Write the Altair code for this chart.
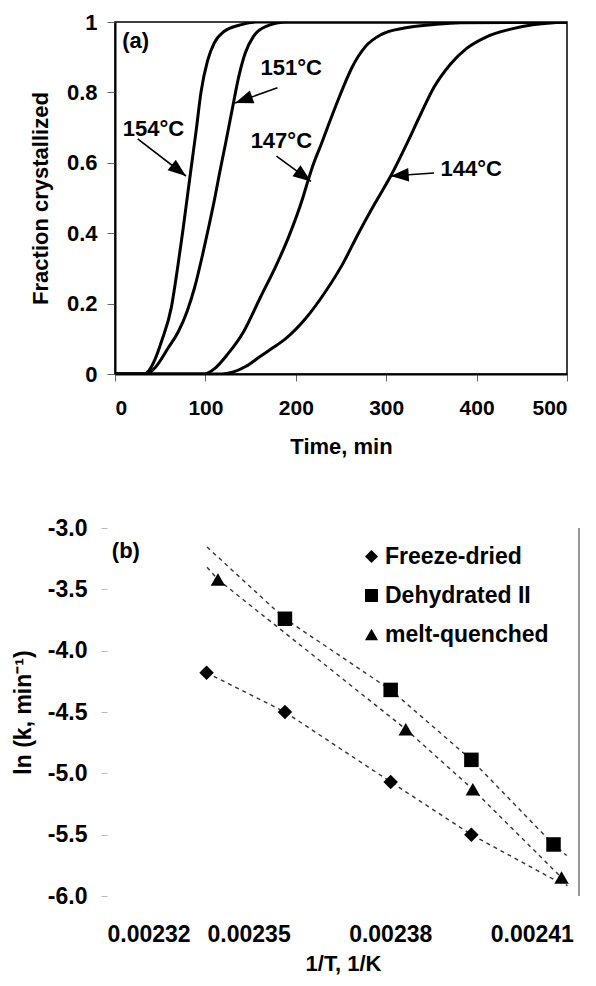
import math
import altair as alt
import pandas as pd

FONT = "Liberation Sans"

# ---------------- Panel (a): fraction crystallized vs time ----------------
t154 = [0, 33, 37, 44, 51.5, 62.4, 69.7, 75.2, 80.6, 85, 89.7, 95.1, 102.4, 109.7, 120.6, 138.7, 157, 500]
f154 = [0, 0, 0.008, 0.04, 0.093, 0.19, 0.31, 0.41, 0.515, 0.6, 0.69, 0.8, 0.89, 0.94, 0.973, 0.992, 1.0, 1.0]

t151 = [0, 35, 45, 58.8, 70, 80, 88, 96.9, 104.2, 110.4, 116, 122.3, 129.6, 136.9, 144.1, 153.2,
        167.8, 190, 500]
f151 = [0, 0, 0.02, 0.074, 0.12, 0.18, 0.245, 0.339, 0.424, 0.5, 0.575, 0.655, 0.751, 0.845, 0.912,
        0.959, 0.988, 1.0, 1.0]

t147 = [0, 98.8, 110, 124.2, 142.4, 160.5, 178.6, 193.1, 207.7, 213, 220, 227.7, 235, 247, 255, 262,
        277, 295, 320, 353, 382, 500]
f147 = [0, 0, 0.015, 0.055, 0.121, 0.216, 0.31, 0.396, 0.5, 0.545, 0.6, 0.65, 0.7, 0.78, 0.83, 0.87,
        0.93, 0.965, 0.983, 0.993, 0.998, 1.0]

t144 = [0, 118, 130, 145, 160.5, 175, 189.5, 211.3, 233.1, 251.3, 269.4, 287.6, 305, 323.9, 338.5,
        353, 371, 389, 411, 436.5, 462, 485, 500]
f144 = [0, 0, 0.005, 0.022, 0.05, 0.075, 0.102, 0.159, 0.235, 0.31, 0.4, 0.485, 0.5625, 0.66, 0.74,
        0.815, 0.88, 0.925, 0.958, 0.979, 0.992, 0.998, 1.0]

ann_labels = ["154°C", "151°C", "147°C", "144°C"]
ann_x = [42.5, 195, 184, 394]
ann_y = [0.696, 0.869, 0.661, 0.583]
arrow_tail_x = [25.1, 179.7, 178.6, 352.9]
arrow_tail_y = [0.668, 0.813, 0.619, 0.571]
arrow_tip_x = [78.5, 132.9, 216.8, 305.0]
arrow_tip_y = [0.5625, 0.770, 0.547, 0.5625]

panel_a_label = "(a)"
panel_a_pos = (22.9, 0.946)

x_ticks_a = [0, 100, 200, 300, 400, 500]
y_ticks_a = [0, 0.2, 0.4, 0.6, 0.8, 1.0]

# ---------------- Panel (b): ln k vs 1/T ----------------
series_names = ["Freeze-dried", "Dehydrated II", "melt-quenched"]
fd_x = [0.0023411, 0.0023577, 0.0023801, 0.0023972]
fd_y = [-4.18, -4.50, -5.07, -5.50]
dh_x = [0.0023577, 0.0023801, 0.0023972, 0.0024146]
dh_y = [-3.74, -4.32, -4.89, -5.58]
mq_x = [0.0023435, 0.0023833, 0.0023975, 0.0024163]
mq_y = [-3.42, -4.64, -5.13, -5.85]

fd_fit_x = [0.0023411, 0.0023577, 0.0023801, 0.0023972, 0.0024149]
fd_fit_y = [-4.18, -4.50, -5.07, -5.50, -5.87]
dh_fit_x = [0.0023412, 0.0023577, 0.0023801, 0.0023972, 0.0024146, 0.0024174]
dh_fit_y = [-3.155, -3.74, -4.32, -4.89, -5.58, -5.67]
mq_fit_x = [0.0023412, 0.0023435, 0.0023833, 0.0023975, 0.0024163, 0.0024175]
mq_fit_y = [-3.32, -3.42, -4.64, -5.13, -5.85, -5.92]

panel_b_label = "(b)"
panel_b_pos = (0.002324, -3.19)

x_ticks_b = [0.00232, 0.00235, 0.00238, 0.00241]
y_ticks_b = [-3.0, -3.5, -4.0, -4.5, -5.0, -5.5, -6.0]

# ---------------- Build panel (a) ----------------
W1, H1 = 452, 352

rows = []
for name, ts, fs in [("154", t154, f154), ("151", t151, f151), ("147", t147, f147), ("144", t144, f144)]:
    for i, (t, f) in enumerate(zip(ts, fs)):
        rows.append({"curve": name, "t": t, "f": f, "i": i})
curves_df = pd.DataFrame(rows)

xa = alt.Scale(domain=[0, 500], nice=False)
ya = alt.Scale(domain=[0, 1], nice=False)

x_axis_a = alt.Axis(values=x_ticks_a, title="Time, min", grid=False, domainColor="black",
                    domainWidth=2, tickColor="#666", tickSize=7, labelPadding=16,
                    titlePadding=18, labelFont=FONT, labelFontSize=21, labelFontWeight="bold",
                    labelColor="black", titleFont=FONT, titleFontSize=22, titleFontWeight="bold",
                    titleColor="black")
y_axis_a = alt.Axis(values=y_ticks_a, format=".1~f", title="Fraction crystallized", grid=False,
                    domainColor="black", domainWidth=2, tickColor="#666", tickSize=8,
                    labelPadding=10, titlePadding=14, labelFont=FONT, labelFontSize=22,
                    labelFontWeight="bold", labelColor="black", titleFont=FONT, titleFontSize=22,
                    titleFontWeight="bold", titleColor="black")

curves = alt.Chart(curves_df).mark_line(color="black", strokeWidth=3, clip=True,
                                        interpolate="monotone").encode(
    x=alt.X("t:Q", scale=xa, axis=x_axis_a),
    y=alt.Y("f:Q", scale=ya, axis=y_axis_a),
    detail="curve:N",
    order="i:Q",
)

sx = W1 / 500.0
sy = H1 / 1.0
arrows = []
for lab, lx, ly, tx, ty, px, py in zip(ann_labels, ann_x, ann_y, arrow_tail_x, arrow_tail_y,
                                       arrow_tip_x, arrow_tip_y):
    dx = (px - tx) * sx
    dy = -(py - ty) * sy
    ang = math.degrees(math.atan2(dy, dx)) % 360
    arrows.append({"label": lab, "lx": lx, "ly": ly, "tx": tx, "ty": ty, "px": px, "py": py,
                   "angle": ang})
arrows_df = pd.DataFrame(arrows)

shafts = alt.Chart(arrows_df).mark_rule(color="black", strokeWidth=1.6).encode(
    x="tx:Q", y="ty:Q", x2="px:Q", y2="py:Q")

heads = alt.Chart(arrows_df).mark_point(
    shape="M0,0L-2,-0.75L-2,0.75Z", filled=True, color="black", size=324, opacity=1
).encode(x="px:Q", y="py:Q", angle=alt.Angle("angle:Q", scale=None))

ann_text = alt.Chart(arrows_df).mark_text(font=FONT, fontSize=22, fontWeight="bold",
                                          color="black").encode(
    x="lx:Q", y="ly:Q", text="label:N")

a_label = alt.Chart(pd.DataFrame([{"x": panel_a_pos[0], "y": panel_a_pos[1],
                                   "s": panel_a_label}])).mark_text(
    font=FONT, fontSize=22, fontWeight="bold", color="black").encode(
    x="x:Q", y="y:Q", text="s:N")

panel_a = alt.layer(curves, shafts, heads, ann_text, a_label).properties(
    width=W1, height=H1,
    view=alt.ViewBackground(stroke="black", strokeWidth=1.5),
)

# ---------------- Build panel (b) ----------------
W2, H2 = 464, 368

pts = []
for name, xs, ys in [(series_names[0], fd_x, fd_y), (series_names[1], dh_x, dh_y),
                     (series_names[2], mq_x, mq_y)]:
    for x, y in zip(xs, ys):
        pts.append({"series": name, "x": x, "y": y})
pts_df = pd.DataFrame(pts)

fits = []
for name, xs, ys in [(series_names[0], fd_fit_x, fd_fit_y), (series_names[1], dh_fit_x, dh_fit_y),
                     (series_names[2], mq_fit_x, mq_fit_y)]:
    for i, (x, y) in enumerate(zip(xs, ys)):
        fits.append({"series": name, "x": x, "y": y, "i": i})
fits_df = pd.DataFrame(fits)

xb = alt.Scale(domain=[0.00232, 0.00242], nice=False, zero=False, range=[-8, W2])
yb = alt.Scale(domain=[-6, -3], nice=False, zero=False)

x_axis_b = alt.Axis(values=x_ticks_b, format=".5f", title="1/T, 1/K", grid=False, domain=False,
                    ticks=False, labelPadding=27, titlePadding=7, labelFont=FONT,
                    labelFontSize=23, labelFontWeight="bold", labelColor="black", titleFont=FONT,
                    titleFontSize=22, titleFontWeight="bold", titleColor="black")
y_axis_b = alt.Axis(values=y_ticks_b, title="ln (k, min⁻¹)", grid=False,
                    labelExpr="(datum.value < 0 ? '-' : '') + format(abs(datum.value), '.1f')",
                    domain=False, offset=8, tickColor="#bbb", tickSize=6, labelPadding=14,
                    titlePadding=12, labelFont=FONT, labelFontSize=23, labelFontWeight="bold",
                    labelColor="black", titleFont=FONT, titleFontSize=23, titleFontWeight="bold",
                    titleColor="black")

fit_lines = alt.Chart(fits_df).mark_line(color="#333", strokeWidth=1.4,
                                         strokeDash=[4, 4]).encode(
    x=alt.X("x:Q", scale=xb, axis=x_axis_b),
    y=alt.Y("y:Q", scale=yb, axis=y_axis_b),
    detail="series:N",
    order="i:Q",
)

points = alt.Chart(pts_df).mark_point(filled=True, color="black", size=210, opacity=1).encode(
    x=alt.X("x:Q", scale=xb),
    y=alt.Y("y:Q", scale=yb),
    shape=alt.Shape("series:N",
                    scale=alt.Scale(domain=series_names,
                                    range=["diamond", "square", "triangle-up"]),
                    legend=alt.Legend(title=None, orient="none", legendX=245, legendY=523,
                                      labelFont=FONT, labelFontSize=23, labelFontWeight="bold",
                                      labelColor="black", symbolSize=170, labelLimit=400,
                                      symbolFillColor="black", symbolStrokeColor="black",
                                      rowPadding=15, labelOffset=2, padding=0)),
)

right_line = alt.Chart(pd.DataFrame([{"x": 0.00242, "y": -3.0, "y2": -6.0}])).mark_rule(
    color="#777", strokeWidth=1.5).encode(
    x=alt.X("x:Q", scale=xb), y=alt.Y("y:Q", scale=yb), y2="y2:Q")

b_label = alt.Chart(pd.DataFrame([{"x": panel_b_pos[0], "y": panel_b_pos[1],
                                   "s": panel_b_label}])).mark_text(
    font=FONT, fontSize=22, fontWeight="bold", color="black").encode(
    x=alt.X("x:Q", scale=xb), y=alt.Y("y:Q", scale=yb), text="s:N")

panel_b = alt.layer(fit_lines, points, right_line, b_label).properties(
    width=W2, height=H2,
    view=alt.ViewBackground(stroke="transparent"),
)

chart = alt.vconcat(panel_a, panel_b, spacing=58).properties(
    padding={"left": 3, "top": 2, "right": 0, "bottom": 0},
).configure(
    background="white",
).configure_view(stroke=None)

chart.save("out.html", embed_options={"renderer": "svg", "actions": False})
